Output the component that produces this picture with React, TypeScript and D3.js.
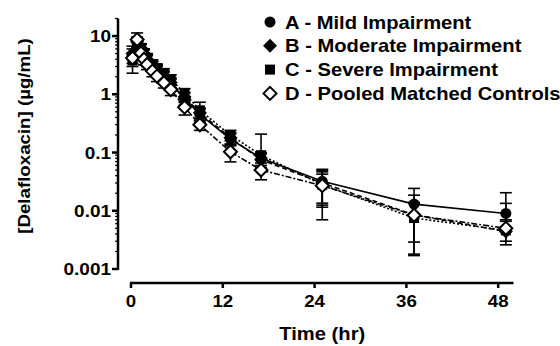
import React from 'react';
import * as d3 from 'd3';

// sampling times (hr) as plotted
const times = [0.2, 0.8, 1.3, 1.7, 2.1, 2.8, 3.4, 4.3, 5.2, 7, 9, 13, 17, 25, 37, 49];

// mean concentrations (ug/mL)
const meanA = [4.5, 7.5, 6.0, 4.8, 3.8, 3.0, 2.5, 2.0, 1.5, 0.85, 0.45, 0.17, 0.08, 0.032, 0.013, 0.009];
const meanB = [5.0, 8.0, 6.2, 5.0, 4.0, 3.1, 2.6, 2.1, 1.6, 0.9, 0.48, 0.18, 0.075, 0.03, 0.0085, 0.0044];
const meanC = [3.8, 7.0, 6.0, 5.0, 4.2, 3.3, 2.8, 2.3, 1.8, 1.05, 0.53, 0.2, 0.09, 0.028, 0.0075, 0.0046];
const meanD = [4.2, 8.7, 5.1, 4.0, 3.25, 2.5, 2.05, 1.58, 1.2, 0.6, 0.3, 0.103, 0.05, 0.027, 0.0084, 0.005];

// standard deviations
const sdA = [2.2, 1.5, 1.2, 1.0, 0.8, 0.6, 0.5, 0.4, 0.3, 0.2, 0.1, 0.04, 0.02, 0.0195, 0.0112, 0.0114];
const sdB = [1.0, 1.6, 1.2, 1.0, 0.8, 0.6, 0.5, 0.4, 0.3, 0.18, 0.1, 0.04, 0.02, 0.0165, 0.0100, 0.009];
const sdC = [0.8, 1.4, 1.2, 1.0, 0.8, 0.6, 0.5, 0.45, 0.35, 0.2, 0.2, 0.04, 0.117, 0.021, 0.0058, 0.002];
const sdD = [0.8, 2.6, 1.0, 0.8, 0.6, 0.5, 0.4, 0.3, 0.25, 0.16, 0.06, 0.034, 0.016, 0.0155, 0.0055, 0.002];

const legendLabels = [
  'A - Mild Impairment',
  'B - Moderate Impairment',
  'C - Severe Impairment',
  'D - Pooled Matched Controls',
];
const xTicks = [0, 12, 24, 36, 48];
const yTicks = [10, 1, 0.1, 0.01, 0.001];
const yTickLabels = ['10', '1', '0.1', '0.01', '0.001'];

const series = [
  { key: 'A', mean: meanA, sd: sdA, shape: 'circle', dash: null },
  { key: 'B', mean: meanB, sd: sdB, shape: 'diamond', dash: '5,3' },
  { key: 'C', mean: meanC, sd: sdC, shape: 'square', dash: '2,2' },
  { key: 'D', mean: meanD, sd: sdD, shape: 'open', dash: '6,2,2,2' },
];

const font = '"Liberation Sans", Arial, sans-serif';

// bold text, a bit wider than Liberation Sans to match the original
function T({ x, y, size, anchor, sx = 1.15, rotate = 0, children }: any) {
  return (
    <text transform={`translate(${x},${y}) rotate(${rotate}) scale(${sx},1)`} textAnchor={anchor || 'start'}
      fontSize={size}>{children}</text>
  );
}

function Marker({ shape, x, y }: { shape: string; x: number; y: number }) {
  if (shape === 'circle') return <circle cx={x} cy={y} r={5.5} fill="black" />;
  if (shape === 'square') return <rect x={x - 5} y={y - 5} width={10} height={10} fill="black" />;
  const s = shape === 'open' ? 6.5 : 7;
  const d = `M${x},${y - s}L${x + s},${y}L${x},${y + s}L${x - s},${y}Z`;
  if (shape === 'open') return <path d={d} fill="white" stroke="black" strokeWidth={2} />;
  return <path d={d} fill="black" />;
}

export default function App() {
  const x = d3.scaleLinear().domain([0, 50]).range([131, 513.5]);
  const y = d3.scaleLog().domain([0.001, 20]).range([269, 18.5]);
  const minor = y.ticks().filter((v) => v <= 20);

  const line = d3.line<number>()
    .x((_, i) => x(times[i]))
    .y((v) => y(v));

  return (
    <svg width={560} height={346} style={{ position: 'absolute', left: 0, top: 0, background: 'white' }}
      fontFamily={font} fontWeight="bold">
      {/* y axis */}
      <line x1={118} x2={118} y1={y(20)} y2={y(0.001) + 1} stroke="black" strokeWidth={2.5} />
      {minor.map((v, i) => (
        <line key={'m' + i} x1={115} x2={118} y1={y(v)} y2={y(v)} stroke="black" strokeWidth={1.2} />
      ))}
      {yTicks.map((v, i) => (
        <g key={'y' + i}>
          <line x1={112} x2={118} y1={y(v)} y2={y(v)} stroke="black" strokeWidth={2.5} />
          <T x={111} y={y(v) + 6} size={16.5} anchor="end" sx={1.15}>{yTickLabels[i]}</T>
        </g>
      ))}
      <T x={30} y={136} size={17} anchor="middle" rotate={-90} sx={1.1}>[Delafloxacin] (µg/mL)</T>

      {/* x axis */}
      <line x1={x(0) - 1} x2={x(50)} y1={283} y2={283} stroke="black" strokeWidth={2.5} />
      {xTicks.map((v) => (
        <g key={'x' + v}>
          <line x1={x(v)} x2={x(v)} y1={283} y2={288} stroke="black" strokeWidth={2.5} />
          <T x={x(v)} y={306.5} size={17} anchor="middle" sx={1.1}>{v}</T>
        </g>
      ))}
      <T x={(x(0) + x(50)) / 2} y={340} size={18} anchor="middle" sx={1.12}>Time (hr)</T>

      {/* lines */}
      {series.map((s) => (
        <path key={'l' + s.key} d={line(s.mean) || ''} fill="none" stroke="black" strokeWidth={1.6}
          strokeDasharray={s.dash || undefined} />
      ))}

      {/* error bars */}
      {series.map((s) => (
        <g key={'e' + s.key}>
          {s.mean.map((m, i) => {
            const cx = x(times[i]);
            const hi = m + s.sd[i];
            const lo = m - s.sd[i];
            return (
              <g key={i}>
                <line x1={cx} x2={cx} y1={y(hi)} y2={lo > 0 ? y(lo) : y(m)} stroke="black" strokeWidth={1.6} />
                <line x1={cx - 6} x2={cx + 6} y1={y(hi)} y2={y(hi)} stroke="black" strokeWidth={1.6} />
                {lo > 0 && (
                  <line x1={cx - 6} x2={cx + 6} y1={y(lo)} y2={y(lo)} stroke="black" strokeWidth={1.6} />
                )}
              </g>
            );
          })}
        </g>
      ))}

      {/* markers */}
      {series.map((s) => (
        <g key={'p' + s.key}>
          {s.mean.map((m, i) => (
            <Marker key={i} shape={s.shape} x={x(times[i])} y={y(m)} />
          ))}
        </g>
      ))}

      {/* legend */}
      {series.map((s, i) => (
        <g key={'g' + s.key}>
          <Marker shape={s.shape} x={270} y={22 + i * 23.8} />
          <T x={285} y={22 + i * 23.8 + 6.5} size={18} sx={1.12}>{legendLabels[i]}</T>
        </g>
      ))}
    </svg>
  );
}
